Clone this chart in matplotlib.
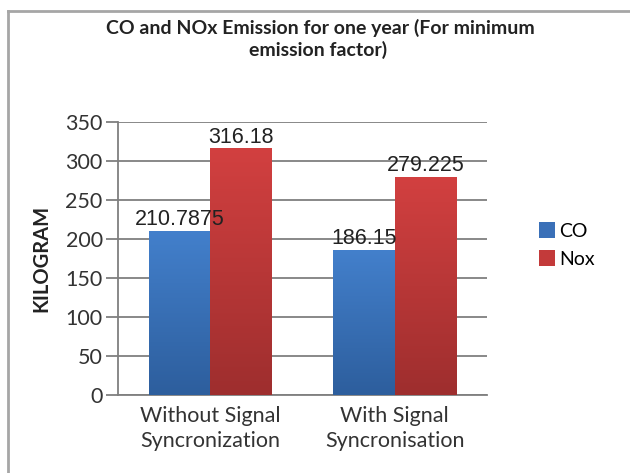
import matplotlib.pyplot as plt
import numpy as np
from matplotlib.colors import LinearSegmentedColormap
from matplotlib.lines import Line2D

categories = ["Without Signal\nSyncronization", "With Signal\nSyncronisation"]
co = [210.7875, 186.15]
nox = [316.18, 279.225]
labels_co = ["210.7875", "186.15"]
labels_nox = ["316.18", "279.225"]

fig = plt.figure(figsize=(6.3, 4.73), dpi=100)
ax = fig.add_axes([0.1873, 0.1649, 0.773 - 0.1873, 0.742 - 0.1649])

# outer frame (top and left only visible in the crop)
fig.add_artist(Line2D([8 / 630, 1], [1 - 11 / 473] * 2, color="#a6a6a6", lw=2))
fig.add_artist(Line2D([8 / 630] * 2, [0, 1 - 11 / 473], color="#a6a6a6", lw=2))

x = np.arange(len(categories))
w = 1 / 3
blue = LinearSegmentedColormap.from_list("b", ["#2d5e9d", "#4380cc"])
red = LinearSegmentedColormap.from_list("r", ["#9e2e2e", "#d24040"])
grad = np.linspace(0, 1, 256).reshape(-1, 1)


def grad_bars(xs, vals, cmap, label, swatch):
    bars = ax.bar(xs, vals, w, color="none", edgecolor="none", zorder=3)
    for b in bars:
        x0, y0 = b.get_x(), b.get_y()
        im = ax.imshow(grad, cmap=cmap, origin="lower", aspect="auto",
                       extent=(x0, x0 + b.get_width(), y0, y0 + b.get_height()),
                       zorder=3)
        im.set_clip_path(b)
    ax.bar([0], [0], color=swatch, label=label)
    return bars


grad_bars(x - w / 2, co, blue, "CO", "#3a70b8")
grad_bars(x + w / 2, nox, red, "Nox", "#c33a3a")

for xi, v, t in zip(x - w / 2, co, labels_co):
    ax.text(xi, v + 1, t, ha="center", va="bottom", fontsize=15.5,
            family="Liberation Sans", color="#222222", zorder=5)
for xi, v, t in zip(x + w / 2, nox, labels_nox):
    ax.text(xi, v + 1, t, ha="center", va="bottom", fontsize=15.5,
            family="Liberation Sans", color="#222222", zorder=5)

ax.set_xlim(-0.5, 1.5)
ax.set_ylim(0, 350)
ax.set_yticks(np.arange(0, 351, 50))
ax.yaxis.grid(True, color="#7f7f7f", lw=1.3)
ax.set_axisbelow(True)
for s in ["top", "right"]:
    ax.spines[s].set_visible(False)
for s in ["left", "bottom"]:
    ax.spines[s].set_color("#7f7f7f")
    ax.spines[s].set_linewidth(1.3)
ax.tick_params(axis="y", length=9, width=1.3, color="#7f7f7f",
               labelsize=15.5, labelcolor="#333333", pad=2)
ax.tick_params(axis="x", length=0, labelsize=15.5, labelcolor="#333333", pad=8)
ax.set_xticks(x)
ax.set_xticklabels(categories, family="Lato", linespacing=1.3)
for t in ax.get_yticklabels():
    t.set_family("Lato")

ax.set_ylabel("KILOGRAM", family="Lato", fontweight="bold", fontsize=14.5,
              color="#222222", labelpad=10)

fig.text(320 / 630, 1 - 28 / 473, "CO and NOx Emission for one year (For minimum",
         ha="center", va="center", family="Lato", fontweight="bold",
         fontsize=14, color="#222222")
fig.text(318 / 630, 1 - 50 / 473, "emission factor)",
         ha="center", va="center", family="Lato", fontweight="bold",
         fontsize=14, color="#222222")

fig.legend(loc="center left", bbox_to_anchor=(539 / 630, 1 - 245 / 473),
           frameon=False, borderaxespad=0, borderpad=0,
           handlelength=0.8, handleheight=0.85,
           handletextpad=0.25, labelspacing=0.55, prop={"family": "Lato", "size": 14})

fig.savefig("out.png", dpi=100)
